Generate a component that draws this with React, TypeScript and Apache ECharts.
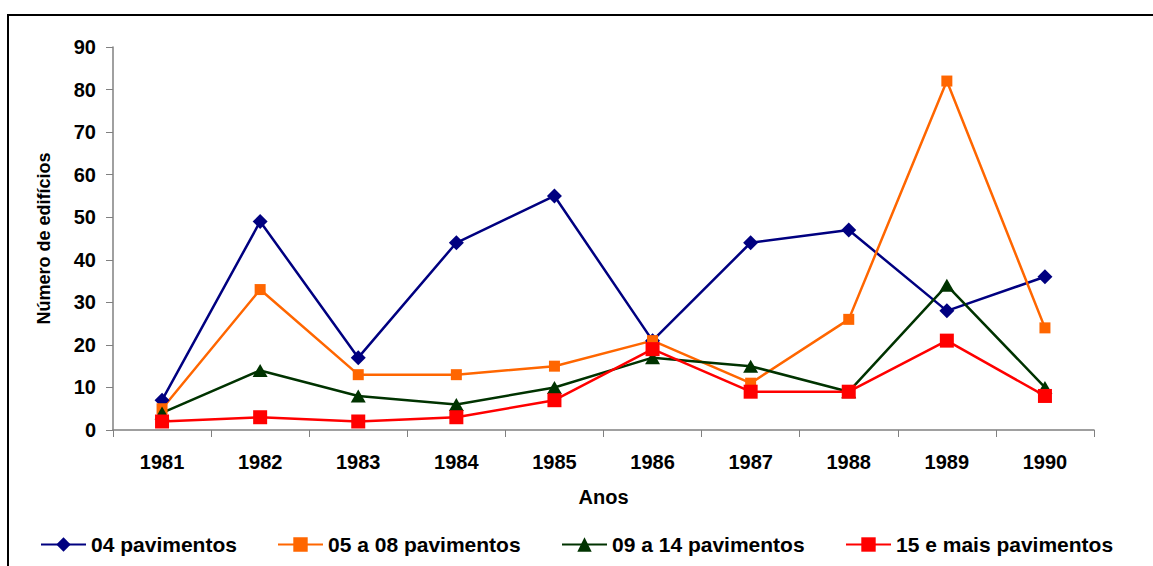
import React, { useEffect, useRef } from "react";
import * as echarts from "echarts";

const years = ["1981", "1982", "1983", "1984", "1985", "1986", "1987", "1988", "1989", "1990"];
const s04 = [7, 49, 17, 44, 55, 21, 44, 47, 28, 36];
const s0508 = [5, 33, 13, 13, 15, 21, 11, 26, 82, 24];
const s0914 = [4, 14, 8, 6, 10, 17, 15, 9, 34, 10];
const s15 = [2, 3, 2, 3, 7, 19, 9, 9, 21, 8];

const names = ["04 pavimentos", "05 a 08 pavimentos", "09 a 14 pavimentos", "15 e mais pavimentos"];
const colors = ["#000080", "#FF6600", "#003300", "#FF0000"];
const symbols = ["diamond", "rect", "triangle", "rect"];
const symbolSizes: any[] = [15, 11, [15, 13], 14];
const dataSets = [s04, s0508, s0914, s15];
const legendLefts = [35, 272, 556, 840];

const FONT = "'Liberation Sans', Arial, sans-serif";

export default function App() {
  const ref = useRef<HTMLDivElement>(null);
  useEffect(() => {
    if (!ref.current) return;
    const chart = echarts.init(ref.current, null, { renderer: "svg" });
    chart.setOption({
      animation: false,
      backgroundColor: "#ffffff",
      textStyle: { fontFamily: FONT },
      grid: { left: 113, right: 59, top: 47, bottom: 136, containLabel: false },
      graphic: [
        {
          type: "rect",
          shape: { x: 8, y: 15, width: 1300, height: 700 },
          style: { fill: "none", stroke: "#000000", lineWidth: 2 },
          silent: true,
        },
      ],
      legend: names.map((n, i) => ({
        data: [n],
        left: legendLefts[i],
        top: 529,
        itemWidth: 45,
        itemHeight: 18,
        itemGap: 5,
        textStyle: { fontFamily: FONT, fontWeight: "bold", fontSize: 21, color: "#000" },
      })),
      xAxis: {
        type: "category",
        data: years,
        boundaryGap: true,
        name: "Anos",
        nameLocation: "middle",
        nameGap: 57,
        nameTextStyle: { fontFamily: FONT, fontWeight: "bold", fontSize: 20, color: "#000" },
        axisLine: { lineStyle: { color: "#808080", width: 1.5 } },
        axisTick: { show: true, length: 7, alignWithLabel: false, lineStyle: { color: "#808080" } },
        axisLabel: { margin: 22, fontFamily: FONT, fontWeight: "bold", fontSize: 20, color: "#000" },
        splitLine: { show: false },
      },
      yAxis: {
        type: "value",
        min: 0,
        max: 90,
        interval: 10,
        name: "Número de edifícios",
        nameLocation: "middle",
        nameGap: 60,
        nameTextStyle: { fontFamily: FONT, fontWeight: "bold", fontSize: 18, color: "#000" },
        axisLine: { show: true, lineStyle: { color: "#808080", width: 1.5 } },
        axisTick: { show: true, length: 7, lineStyle: { color: "#808080" } },
        axisLabel: { margin: 17, fontFamily: FONT, fontWeight: "bold", fontSize: 20, color: "#000" },
        splitLine: { show: false },
      },
      series: names.map((n, i) => ({
        name: n,
        type: "line",
        data: dataSets[i],
        symbol: symbols[i],
        symbolSize: symbolSizes[i],
        showAllSymbol: true,
        color: colors[i],
        itemStyle: { color: colors[i] },
        lineStyle: { color: colors[i], width: 2.5 },
        emphasis: { disabled: true },
      })),
    });
    return () => chart.dispose();
  }, []);
  return (
    <div
      ref={ref}
      style={{ position: "absolute", left: 0, top: 0, width: 1153, height: 566 }}
    />
  );
}
